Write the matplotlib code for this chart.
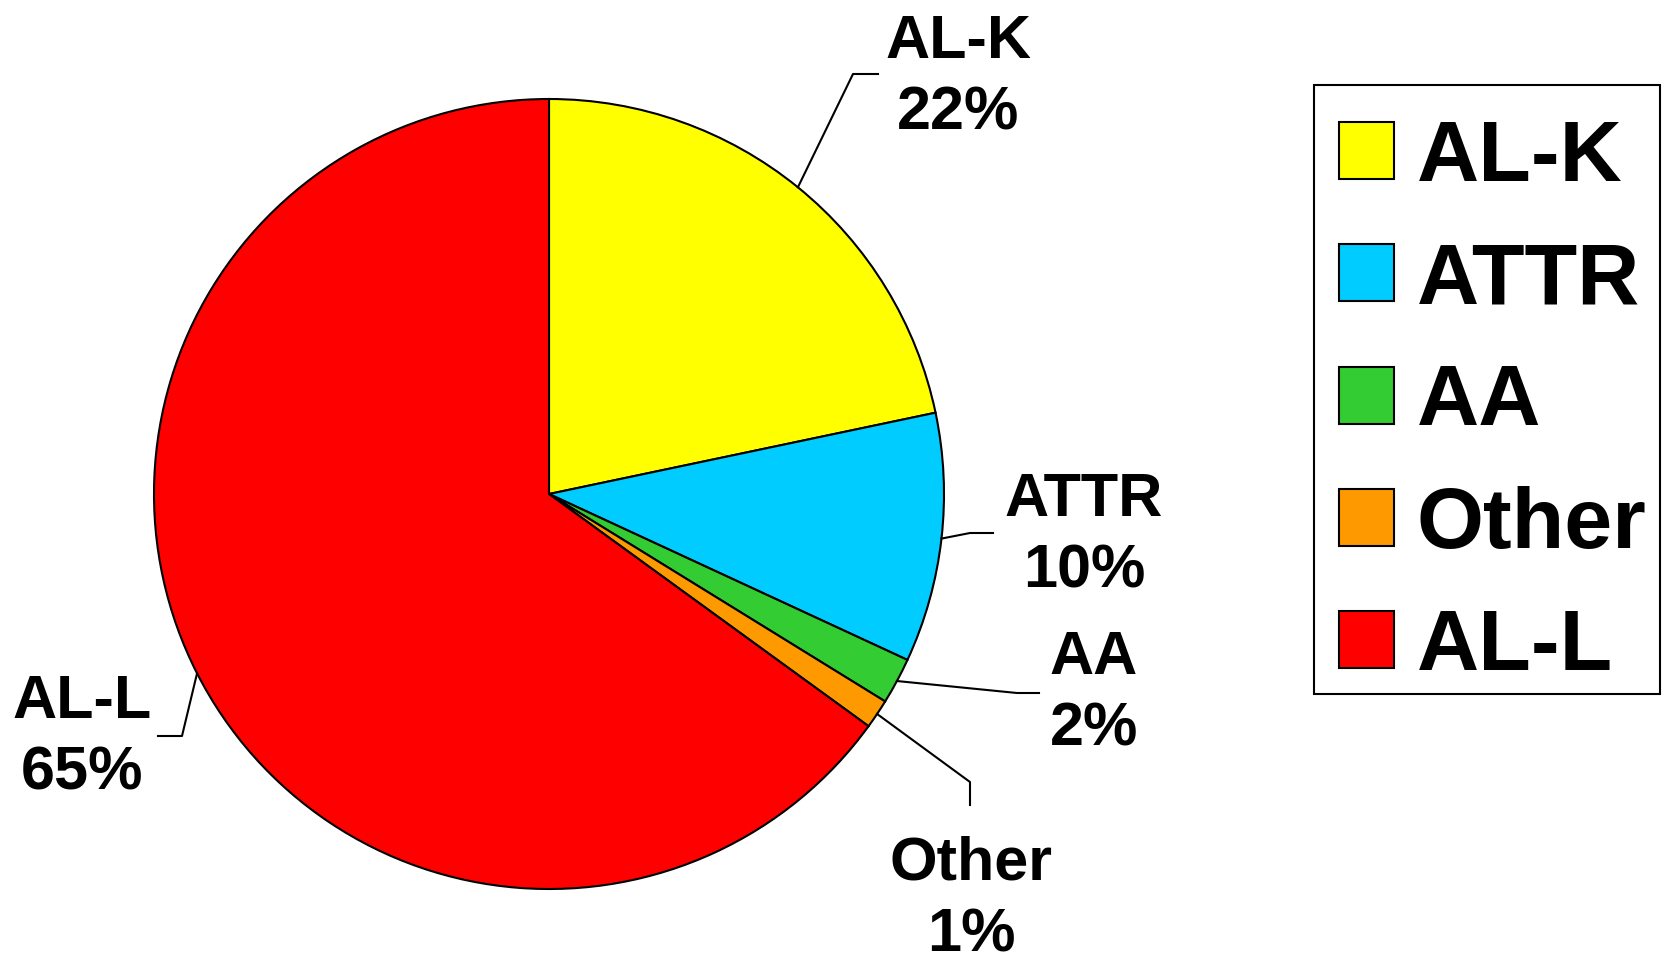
import matplotlib
matplotlib.use("Agg")
from matplotlib import pyplot as plt
import numpy as np

plt.rcParams['font.family'] = ['Liberation Sans', 'DejaVu Sans']
plt.rcParams['font.weight'] = 'bold'

# data
categories = ["AL-K", "ATTR", "AA", "Other", "AL-L"]
shares = [21.7, 10.2, 1.9, 1.2, 65.0]
colors = ["#FFFF00", "#00CCFF", "#33CC33", "#FF9900", "#FF0000"]

W, H = 1662, 958
fig = plt.figure(figsize=(W / 100, H / 100), dpi=100)
ax = fig.add_axes([0, 0, 1, 1])

cx, cy, r = 549, H - 494, 395
wedges, _ = ax.pie(shares, colors=colors, startangle=90, counterclock=False,
                   center=(cx, cy), radius=r,
                   wedgeprops=dict(edgecolor="black", linewidth=1.5))
ax.set_xlim(0, W)
ax.set_ylim(0, H)
ax.set_aspect("equal")
ax.axis("off")

# label layout (pixel coords from top): elbow, end of leader, text centre
layout = {
    "AL-K": ((853, 74), (878, 74), (958, 78)),
    "ATTR": ((970, 533), (993, 533), (1084, 536)),
    "AA": ((1017, 693), (1039, 693), (1094, 694)),
    "Other": ((970, 782), (970, 805), (971, 900)),
    "AL-L": ((182, 736), (158, 736), (82, 738)),
}

for w, cat, val in zip(wedges, categories, shares):
    mid = np.deg2rad((w.theta1 + w.theta2) / 2)
    sx, sy = cx + r * np.cos(mid), cy + r * np.sin(mid)
    (ex, ey), (fx, fy), (tx, ty) = layout[cat]
    ax.plot([sx, ex, fx], [sy, H - ey, H - fy], color="black", lw=1.5)
    ax.text(tx, H - ty, f"{cat}\n{round(val)}%", ha="center", va="center",
            fontsize=44, fontweight="bold", linespacing=1.33)

# legend box drawn separately so the padding can match
fig.add_artist(plt.Rectangle((1314 / W, 1 - 694 / H), (1660 - 1314) / W, (694 - 85) / H,
                             transform=fig.transFigure, fill=False,
                             edgecolor="black", lw=1.5))
leg = fig.legend(wedges, categories, loc="upper left",
                 bbox_to_anchor=(1339 / W, 1 - 119 / H), borderaxespad=0,
                 prop=dict(size=62, weight="bold"), frameon=False,
                 handlelength=0.64, handleheight=0.64,
                 handletextpad=0.26, labelspacing=0.49, borderpad=0)

fig.savefig("out.png", dpi=100)
